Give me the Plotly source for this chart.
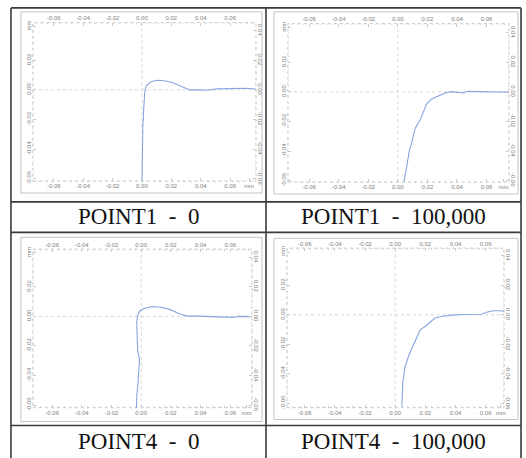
import plotly.graph_objects as go

W, H = 526, 458

# ---------------- data ----------------
titles = ["POINT1\u00a0\u00a0-\u00a0\u00a00", "POINT1\u00a0\u00a0-\u00a0\u00a0100,000",
          "POINT4\u00a0\u00a0-\u00a0\u00a00", "POINT4\u00a0\u00a0-\u00a0\u00a0100,000"]

p1_0_x = [0.0000, 0.0002, 0.0006, 0.0014, 0.0020, 0.0030, 0.0060, 0.0105, 0.0150, 0.0206,
          0.0274, 0.0326, 0.0387, 0.0443, 0.0510, 0.0590, 0.0703, 0.0790]
p1_0_y = [-0.0650, -0.0470, -0.0250, -0.0096, -0.0007, 0.0027, 0.0055, 0.0065, 0.0062, 0.0050,
          0.0020, 0.0000, 0.0000, -0.0002, 0.0007, 0.0007, 0.0011, 0.0005]

p1_100k_x = [0.0040, 0.0043, 0.0061, 0.0079, 0.0090, 0.0117, 0.0151, 0.0173, 0.0195, 0.0229,
             0.0274, 0.0320, 0.0364, 0.0420, 0.0442, 0.0476, 0.0566, 0.0678, 0.0770]
p1_100k_y = [-0.0650, -0.0600, -0.0500, -0.0390, -0.0358, -0.0247, -0.0190, -0.0136, -0.0080, -0.0047,
             -0.0025, -0.0007, 0.0002, -0.0002, -0.0007, 0.0004, 0.0002, 0.0000, -0.0002]

p4_0_x = [-0.0032, -0.0030, -0.0023, -0.0018, -0.0011, -0.0023, -0.0027, -0.0030, -0.0025, -0.0011,
          0.0022, 0.0078, 0.0134, 0.0201, 0.0257, 0.0313, 0.0380, 0.0470, 0.0559, 0.0615,
          0.0660, 0.0770]
p4_0_y = [-0.0650, -0.0540, -0.0470, -0.0380, -0.0290, -0.0240, -0.0138, -0.0050, 0.0007, 0.0035,
          0.0055, 0.0067, 0.0062, 0.0044, 0.0018, 0.0002, 0.0002, 0.0000, -0.0007, -0.0007,
          0.0000, -0.0002]

p4_100k_x = [0.0042, 0.0044, 0.0050, 0.0066, 0.0092, 0.0121, 0.0165, 0.0209, 0.0264, 0.0308,
             0.0374, 0.0462, 0.0572, 0.0616, 0.0649, 0.0693, 0.0740]
p4_100k_y = [-0.0650, -0.0627, -0.0460, -0.0350, -0.0270, -0.0204, -0.0104, -0.0071, -0.0022, -0.0011,
             -0.0002, 0.0002, 0.0004, 0.0020, 0.0027, 0.0027, 0.0022]

x_ticks = [-0.06, -0.04, -0.02, 0.00, 0.02, 0.04, 0.06]
x_labels = ["-0.06", "-0.04", "-0.02", "0.00", "0.02", "0.04", "0.06"]
y_ticks = [-0.06, -0.04, -0.02, 0.00, 0.02, 0.04]
y_labels = ["-0.06", "-0.04", "-0.02", "0.00", "0.02", "0.04"]
unit = "mm"

series = [(p1_0_x, p1_0_y), (p1_100k_x, p1_100k_y), (p4_0_x, p4_0_y), (p4_100k_x, p4_100k_y)]

# ---------------- layout geometry (pixels) ----------------
areas = [(33, 257, 21, 182), (289, 511, 22, 183), (33, 253, 251, 412), (288, 506, 250, 412)]
frames = [(21, 263, 10, 194), (275, 520, 10, 195), (21, 263, 239, 426), (275, 520, 240, 424)]
xranges = [(-0.0742, 0.0776), (-0.0743, 0.0752), (-0.0730, 0.0747), (-0.0718, 0.0722)]
yranges = [(-0.0618, 0.0455), (-0.0611, 0.0462), (-0.0618, 0.0455), (-0.0629, 0.0451)]
unit_x = [0.0729, 0.0715, 0.0710, 0.0700]
unit_y = [0.0430, 0.0435, 0.0430, 0.0425]
label_centers = [(139, 218), (395, 218), (139, 446), (395, 446)]

def px(x):
    return x / W

def py(y):
    return 1 - y / H

fig = go.Figure()
layout = dict(width=W, height=H, margin=dict(l=0, r=0, t=0, b=0),
              paper_bgcolor="white", plot_bgcolor="white", showlegend=False)
shapes = []
annotations = []

tickfont = dict(family="Arial", size=6, color="#808080")
curve_color = "#86a6e0"

for k in range(4):
    a, b = 2 * k + 1, 2 * k + 2
    sa = "" if a == 1 else str(a)
    sb = str(b)
    l, r, t, btm = areas[k]
    dom_x = [px(l), px(r)]
    dom_y = [py(btm), py(t)]
    xs, ys = series[k]

    fig.add_trace(go.Scatter(x=xs, y=ys, mode="lines", xaxis="x" + sa, yaxis="y" + sa,
                             line=dict(color=curve_color, width=1.1), hoverinfo="skip"))
    fig.add_trace(go.Scatter(x=xs, y=ys, mode="lines", xaxis="x" + sb, yaxis="y" + sb,
                             line=dict(color=curve_color, width=0), opacity=0, hoverinfo="skip"))

    common = dict(showgrid=False, zeroline=False, showline=False, ticks="inside", ticklen=3,
                  tickcolor="#c8c8c8", tickwidth=1, tickfont=tickfont, fixedrange=True,
                  minor=dict(ticks="inside", ticklen=1.5, tickcolor="#d8d8d8", dtick=0.004))
    layout["xaxis" + sa] = dict(common, domain=dom_x, range=list(xranges[k]), anchor="y" + sa,
                                side="bottom", tickmode="array",
                                tickvals=x_ticks + [unit_x[k]], ticktext=x_labels + [unit],
                                tickangle=0)
    layout["xaxis" + sb] = dict(common, domain=dom_x, range=list(xranges[k]), anchor="y" + sb,
                                side="top", overlaying="x" + sa, tickmode="array",
                                tickvals=x_ticks, ticktext=x_labels, tickangle=0)
    layout["yaxis" + sa] = dict(common, domain=dom_y, range=list(yranges[k]), anchor="x" + sa,
                                side="left", tickmode="array",
                                tickvals=y_ticks[:-1] + [unit_y[k]], ticktext=y_labels[:-1] + [unit],
                                tickangle=-90)
    layout["yaxis" + sb] = dict(common, domain=dom_y, range=list(yranges[k]), anchor="x" + sb,
                                side="right", overlaying="y" + sa, tickmode="array",
                                tickvals=y_ticks, ticktext=y_labels, tickangle=90)

    # dotted frame of plot area
    shapes.append(dict(type="rect", xref="paper", yref="paper", x0=px(l), x1=px(r), y0=py(btm), y1=py(t),
                       line=dict(color="#c4c4c4", width=1, dash="dot"), layer="below"))
    # dotted zero cross-hair
    shapes.append(dict(type="line", xref="x" + sa, yref="y" + sa + " domain", x0=0, x1=0, y0=0, y1=1,
                       line=dict(color="#d6d6d6", width=1, dash="dot"), layer="below"))
    shapes.append(dict(type="line", xref="x" + sa + " domain", yref="y" + sa, x0=0, x1=1, y0=0, y1=0,
                       line=dict(color="#d6d6d6", width=1, dash="dot"), layer="below"))
    # grey frame around the screenshot panel
    fl, fr, ft, fb = frames[k]
    shapes.append(dict(type="rect", xref="paper", yref="paper", x0=px(fl), x1=px(fr), y0=py(fb), y1=py(ft),
                       line=dict(color="#c4c4c4", width=1)))
    # caption
    cx, cy = label_centers[k]
    annotations.append(dict(text=titles[k], xref="paper", yref="paper", x=px(cx), y=py(cy),
                            xanchor="center", yanchor="middle", showarrow=False,
                            font=dict(family="Liberation Serif", size=23, color="#111111")))

# table lines
tbl = dict(color="#3a3a3a", width=1.6)
table_left, table_right, table_mid, table_top = 11, 523, 267, 6
h_lines = [6, 203, 234, 430]
for yy in h_lines:
    shapes.append(dict(type="line", xref="paper", yref="paper", x0=px(table_left), x1=px(table_right),
                       y0=py(yy), y1=py(yy), line=tbl))
for xx in [table_left, table_mid, table_right]:
    shapes.append(dict(type="line", xref="paper", yref="paper", x0=px(xx), x1=px(xx),
                       y0=py(H + 5), y1=py(table_top), line=tbl))

layout["shapes"] = shapes
layout["annotations"] = annotations
fig.update_layout(**layout)
fig.write_html("out.html")
